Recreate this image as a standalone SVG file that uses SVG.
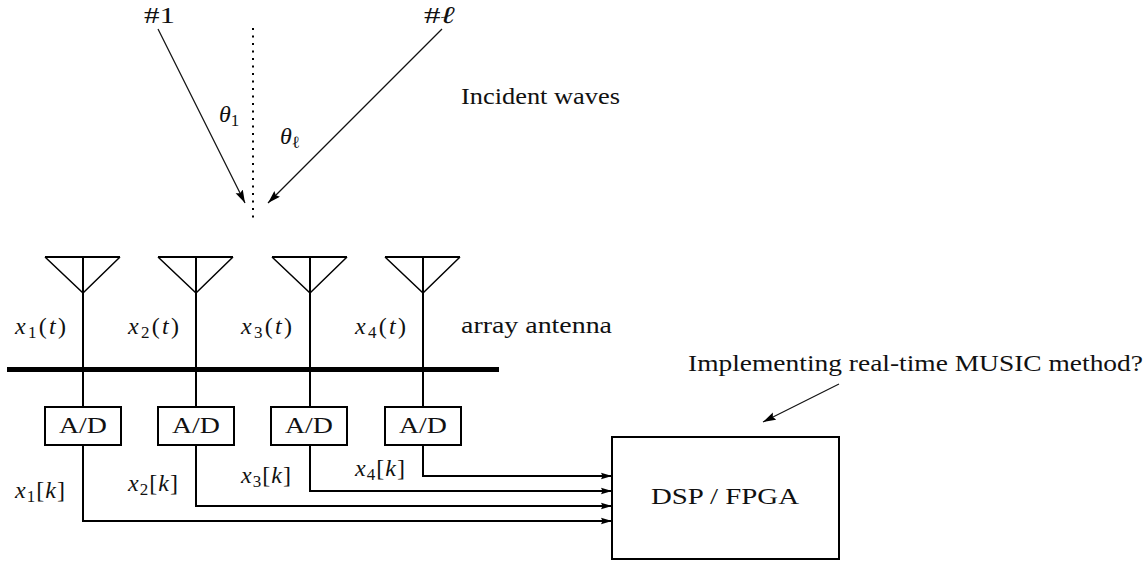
<svg xmlns="http://www.w3.org/2000/svg" width="1144" height="565" viewBox="0 0 1144 565">
<style>
text{font-family:"Liberation Serif","Times New Roman",serif;font-size:23px;fill:#111}
.m{font-style:italic;font-size:24px}
.s{font-size:17px;font-style:normal}
.n{font-style:normal}
.w{fill:none;stroke:#000;stroke-width:2}
.d{fill:none;stroke:#000;stroke-width:1.5}
.t{fill:none;stroke:#111;stroke-width:1.2}
.b{fill:#fff;stroke:#000;stroke-width:2}
</style>
<defs>
<marker id="a" markerUnits="userSpaceOnUse" markerWidth="14" markerHeight="10" refX="11" refY="4" orient="auto"><path d="M0 0.8L11 4L0 7.2L1.5 4Z" fill="#000"/></marker>
<marker id="c" markerUnits="userSpaceOnUse" markerWidth="16" markerHeight="10" refX="13" refY="4" orient="auto"><path d="M0 0L13 4L0 8L2 4Z" fill="#000"/></marker>
</defs>
<rect width="1144" height="565" fill="#fff"/>
<g id="connectors">
<path class="t" d="M158 29L245 203" marker-end="url(#c)"/>
<path class="t" d="M442 29L268 203" marker-end="url(#c)"/>
<path d="M253 28V220" fill="none" stroke="#000" stroke-width="2" stroke-dasharray="2 5.5"/>
<path class="t" d="M839 384L763 422" marker-end="url(#c)"/>
<path d="M7 369.5H499" fill="none" stroke="#000" stroke-width="5"/>
<path class="w" d="M83 293V407M196 293V407M310 293V407M423 293V407"/>
<path class="w" d="M83 446V521H612" marker-end="url(#a)"/>
<path class="w" d="M196 445V506H612" marker-end="url(#a)"/>
<path class="w" d="M310 445V491H612" marker-end="url(#a)"/>
<path class="w" d="M423 445V476H612" marker-end="url(#a)"/>
</g>
<g id="ant1"><path class="d" d="M45 257L83 293L120 257"/><path class="w" d="M45 257H120M83 257V293"/></g>
<g id="ant2"><path class="d" d="M158 257L196 293L233 257"/><path class="w" d="M158 257H233M196 257V293"/></g>
<g id="ant3"><path class="d" d="M272 257L310 293L347 257"/><path class="w" d="M272 257H347M310 257V293"/></g>
<g id="ant4"><path class="d" d="M385 257L423 293L460 257"/><path class="w" d="M385 257H460M423 257V293"/></g>
<g id="ad1"><rect class="b" x="45" y="407" width="76" height="38"/><text x="59" y="433" textLength="48" lengthAdjust="spacingAndGlyphs">A/D</text></g>
<g id="ad2"><rect class="b" x="158" y="407" width="76" height="38"/><text x="172" y="433" textLength="48" lengthAdjust="spacingAndGlyphs">A/D</text></g>
<g id="ad3"><rect class="b" x="271" y="407" width="76" height="38"/><text x="285" y="433" textLength="48" lengthAdjust="spacingAndGlyphs">A/D</text></g>
<g id="ad4"><rect class="b" x="385" y="407" width="76" height="38"/><text x="399" y="433" textLength="48" lengthAdjust="spacingAndGlyphs">A/D</text></g>
<g id="dsp"><rect class="b" x="612" y="437" width="227" height="122"/><text x="651" y="504" textLength="148" lengthAdjust="spacingAndGlyphs">DSP / FPGA</text></g>
<g id="labels">
<text x="144" y="23" textLength="31" lengthAdjust="spacingAndGlyphs">#1</text>
<text x="424" y="23" textLength="31" lengthAdjust="spacingAndGlyphs">#<tspan class="m">ℓ</tspan></text>
<text class="m" x="219" y="122">θ<tspan class="s" dy="4">1</tspan></text>
<text class="m" x="280" y="144">θ<tspan class="s" dy="4">ℓ</tspan></text>
<text x="461" y="104" textLength="159" lengthAdjust="spacingAndGlyphs">Incident waves</text>
<text x="461" y="333" textLength="151" lengthAdjust="spacingAndGlyphs">array antenna</text>
<text x="688" y="371" textLength="455" lengthAdjust="spacingAndGlyphs">Implementing real-time MUSIC method?</text>
<text class="m" x="15" y="334" textLength="51" lengthAdjust="spacing">x<tspan class="s" dy="4">1</tspan><tspan class="n" dy="-4">(</tspan>t<tspan class="n">)</tspan></text>
<text class="m" x="128" y="334" textLength="51" lengthAdjust="spacing">x<tspan class="s" dy="4">2</tspan><tspan class="n" dy="-4">(</tspan>t<tspan class="n">)</tspan></text>
<text class="m" x="241" y="334" textLength="51" lengthAdjust="spacing">x<tspan class="s" dy="4">3</tspan><tspan class="n" dy="-4">(</tspan>t<tspan class="n">)</tspan></text>
<text class="m" x="355" y="334" textLength="51" lengthAdjust="spacing">x<tspan class="s" dy="4">4</tspan><tspan class="n" dy="-4">(</tspan>t<tspan class="n">)</tspan></text>
<text class="m" x="15" y="498" textLength="50" lengthAdjust="spacing">x<tspan class="s" dy="4">1</tspan><tspan class="n" dy="-4">[</tspan>k<tspan class="n">]</tspan></text>
<text class="m" x="128" y="491" textLength="50" lengthAdjust="spacing">x<tspan class="s" dy="4">2</tspan><tspan class="n" dy="-4">[</tspan>k<tspan class="n">]</tspan></text>
<text class="m" x="241" y="483" textLength="50" lengthAdjust="spacing">x<tspan class="s" dy="4">3</tspan><tspan class="n" dy="-4">[</tspan>k<tspan class="n">]</tspan></text>
<text class="m" x="355" y="476" textLength="50" lengthAdjust="spacing">x<tspan class="s" dy="4">4</tspan><tspan class="n" dy="-4">[</tspan>k<tspan class="n">]</tspan></text>
</g>
</svg>
